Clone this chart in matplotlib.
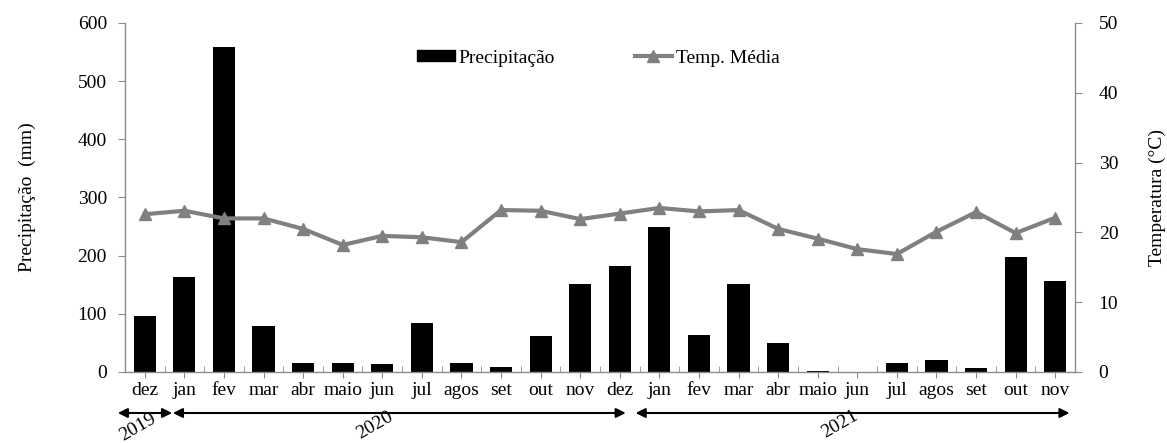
import matplotlib
matplotlib.use("Agg")
import matplotlib.pyplot as plt
import matplotlib.transforms as mtransforms
from matplotlib.lines import Line2D
from matplotlib.patches import Patch

plt.rcParams['font.family'] = ['Liberation Serif', 'DejaVu Serif']

months = ["dez", "jan", "fev", "mar", "abr", "maio", "jun", "jul", "agos", "set", "out", "nov",
          "dez", "jan", "fev", "mar", "abr", "maio", "jun", "jul", "agos", "set", "out", "nov"]
precip = [97, 163, 559, 79, 16, 16, 13, 85, 16, 8, 62, 152,
          182, 250, 64, 151, 50, 2, 0, 15, 20, 7, 197, 157]
temp = [22.6, 23.1, 22.0, 22.0, 20.5, 18.2, 19.5, 19.3, 18.6, 23.2, 23.1, 21.9,
        22.7, 23.5, 23.0, 23.2, 20.5, 19.1, 17.6, 16.9, 20.1, 22.9, 19.9, 22.1]
years = ["2019", "2020", "2021"]
year_spans = [(-0.68, 0.69), (0.71, 12.15), (12.4, 23.36)]
year_label_x = [-0.17, 5.8, 17.55]

FS = 14

fig = plt.figure(figsize=(11.67, 4.43), dpi=100)
ax = fig.add_axes([0.1071, 0.1603, 0.8141, 0.7878])
ax2 = ax.twinx()

x = list(range(len(months)))
ax.bar(x, precip, width=0.56, color='black', zorder=2)
ax.set_xlim(-0.5, len(months) - 0.5)
ax.set_ylim(0, 600)
ax.set_yticks(range(0, 601, 100))
ax2.set_ylim(0, 50)
ax2.set_yticks(range(0, 51, 10))

ax2.plot(x, temp, color='#808080', lw=3.0, marker='^', markersize=9, zorder=3)

gray = '#8c8c8c'
for a in (ax, ax2):
    a.spines['top'].set_visible(False)
    for s in ('left', 'right', 'bottom'):
        a.spines[s].set_color(gray)
        a.spines[s].set_linewidth(1.0)
ax.spines['right'].set_visible(False)
ax2.spines['left'].set_visible(False)
ax2.spines['bottom'].set_visible(False)

ax.set_xticks(x)
ax.set_xticklabels(months, fontsize=FS)
ax.set_xticks([i + 0.5 for i in range(-1, len(months))], minor=True)
ax.tick_params(axis='x', which='major', direction='out', length=4, color=gray, pad=3)
ax.tick_params(axis='x', which='minor', direction='in', length=4, color=gray)
ax.tick_params(axis='y', direction='out', length=5, color=gray, labelsize=FS, pad=8)
ax2.tick_params(axis='y', direction='out', length=5, color=gray, labelsize=FS, pad=12)

ax.set_ylabel("Precipitação  (mm)", fontsize=FS, labelpad=30)
ax2.set_ylabel("Temperatura (°C)", fontsize=FS, labelpad=22)

# year arrows
trans = mtransforms.blended_transform_factory(ax.transData, ax.transAxes)
for (x0, x1) in year_spans:
    ax.annotate("", xy=(x0, -0.1175), xytext=(x1, -0.1175), xycoords=trans, textcoords=trans,
                annotation_clip=False,
                arrowprops=dict(arrowstyle='<|-|>', color='black', lw=1.5,
                                mutation_scale=14, shrinkA=0, shrinkB=0))
year_label_y = [-0.158, -0.152, -0.150]
for yr, xl, yl in zip(years, year_label_x, year_label_y):
    ax.text(xl, yl, yr, transform=trans, rotation=30, ha='center', va='center',
            fontsize=FS, clip_on=False)

handles = [Patch(facecolor='black', edgecolor='black'),
           Line2D([], [], color='#808080', lw=3.0, marker='^', markersize=9)]
fig.legend(handles, ["Precipitação", "Temp. Média"], loc='center left',
           bbox_to_anchor=(0.357, 0.869), ncol=2, frameon=False, fontsize=FS,
           handlelength=1.95, handleheight=0.45, handletextpad=0.2, columnspacing=4.1,
           borderpad=0, borderaxespad=0)

fig.savefig("out.png", dpi=100)
